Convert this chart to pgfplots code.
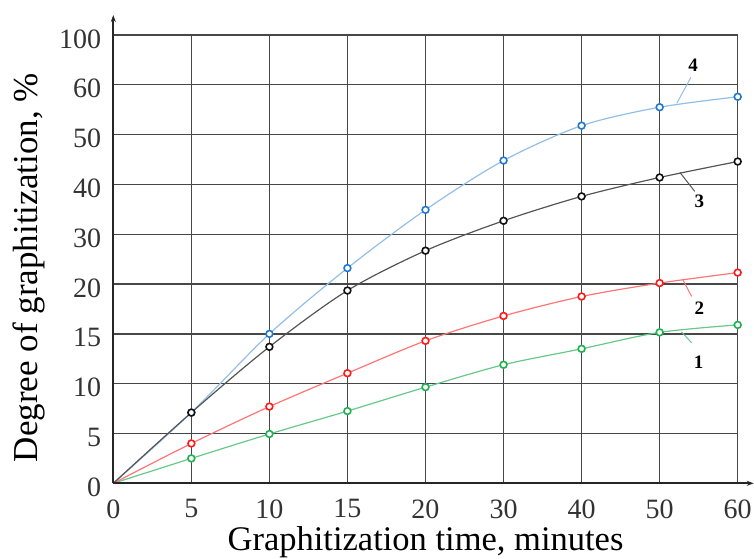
\documentclass[border=0pt]{standalone}
\usepackage{pgfplots}
\pgfplotsset{compat=1.18}
\usepackage{pgfplotstable}
\usetikzlibrary{arrows.meta}
\usepackage{fontspec}
\setmainfont{Liberation Serif}
\definecolor{lineA}{HTML}{66C98A}
\definecolor{markA}{HTML}{1FB04F}
\definecolor{lineB}{HTML}{FF7575}
\definecolor{markB}{HTML}{FF1A1A}
\definecolor{lineC}{HTML}{555555}
\definecolor{markC}{HTML}{111111}
\definecolor{lineD}{HTML}{92BEE8}
\definecolor{markD}{HTML}{1F78CC}
% piecewise scale of both axes: 0-20 in steps of 5, 20-60 in steps of 10, 60-100 one cell
\pgfmathdeclarefunction{gscale}{1}{\pgfmathparse{#1<=20 ? #1/5 : (#1<=60 ? 4+(#1-20)/10 : 8+(#1-60)/40)}}
\pgfplotstableread{
t   c1    c2    c3    c4
0   0     0     0     0
5   2.5   4.0   7.1   7.1
10  4.95  7.7   13.7  15.0
15  7.25  11.05 19.35 23.2
20  9.65  14.3  26.7  34.9
30  11.9  16.8  32.7  44.8
40  13.5  18.75 37.6  51.8
50  15.15 20.2  41.4  55.5
60  15.9  22.3  44.6  57.6
}\datatab
\begin{document}
\begin{tikzpicture}
\begin{axis}[
  at={(0,0)}, anchor=south west,
  scale only axis, width=624.4bp, height=448.3bp,
  xmin=0, xmax=8, ymin=0, ymax=9,
  xtick={0,...,8}, xticklabels={0,5,10,15,20,30,40,50,60},
  ytick={0,...,9}, yticklabels={0,5,10,15,20,30,40,50,60,100},
  major tick length=0pt,
  axis line style={draw=none},
  grid=major,
  grid style={line width=1.3bp, color=black!72},
  clip=false,
  xticklabel style={font=\fontsize{28bp}{30bp}\selectfont, anchor=north, inner sep=0pt, yshift=-16bp, text=black!80},
  yticklabel style={font=\fontsize{28bp}{30bp}\selectfont, anchor=east, inner sep=0pt, xshift=-12bp, yshift=-4bp, text=black!80},
  xlabel={Graphitization time, minutes},
  ylabel={Degree of graphitization, \%},
  xlabel style={font=\fontsize{34.5bp}{36bp}\selectfont, at={(axis description cs:0.5,0)}, anchor=base, yshift=-67bp},
  ylabel style={font=\fontsize{35bp}{36bp}\selectfont, at={(axis description cs:-0.1217,0.481)}, anchor=base},
  every axis plot/.append style={smooth, line width=1.2bp, mark=*, mark size=3.4bp, mark indices={2,...,9}},
]
\addplot[lineA, mark options={draw=markA, fill=white, line width=1.6bp}] table[x expr={gscale(\thisrow{t})}, y expr={gscale(\thisrow{c1})}] {\datatab};
\addplot[lineB, mark options={draw=markB, fill=white, line width=1.6bp}] table[x expr={gscale(\thisrow{t})}, y expr={gscale(\thisrow{c2})}] {\datatab};
\addplot[lineD, mark options={draw=markD, fill=white, line width=1.6bp}] table[x expr={gscale(\thisrow{t})}, y expr={gscale(\thisrow{c4})}] {\datatab};
\addplot[lineC, mark options={draw=markC, fill=white, line width=1.6bp}] table[x expr={gscale(\thisrow{t})}, y expr={gscale(\thisrow{c3})}] {\datatab};
% leader lines and curve numbers
\draw[lineD, line width=1bp] (axis cs:7.22,7.63) -- (axis cs:7.40,8.15);
\draw[lineC, line width=1bp] (axis cs:7.26,6.24) -- (axis cs:7.45,5.86);
\draw[lineB, line width=1bp] (axis cs:7.30,4.08) -- (axis cs:7.41,3.75);
\draw[lineA, line width=1bp] (axis cs:7.28,3.04) -- (axis cs:7.41,2.82);
\node[font=\fontsize{19bp}{20bp}\bfseries\selectfont] at (axis cs:7.43,8.40) {4};
\node[font=\fontsize{19bp}{20bp}\bfseries\selectfont] at (axis cs:7.51,5.66) {3};
\node[font=\fontsize{19bp}{20bp}\bfseries\selectfont] at (axis cs:7.51,3.51) {2};
\node[font=\fontsize{19bp}{20bp}\bfseries\selectfont] at (axis cs:7.50,2.44) {1};
% axis arrows
\draw[line width=2bp, black!85, -{Stealth[length=7bp,width=5bp]}] (rel axis cs:0,0) -- ([yshift=20bp]rel axis cs:0,1);
\draw[line width=2bp, black!85, -{Stealth[length=7bp,width=5bp]}] (rel axis cs:0,0) -- ([xshift=16bp]rel axis cs:1,0);
\end{axis}
\pgfresetboundingbox
\useasboundingbox (-113.3bp,-75.7bp) rectangle (640.7bp,483.3bp);
\end{tikzpicture}
\end{document}
